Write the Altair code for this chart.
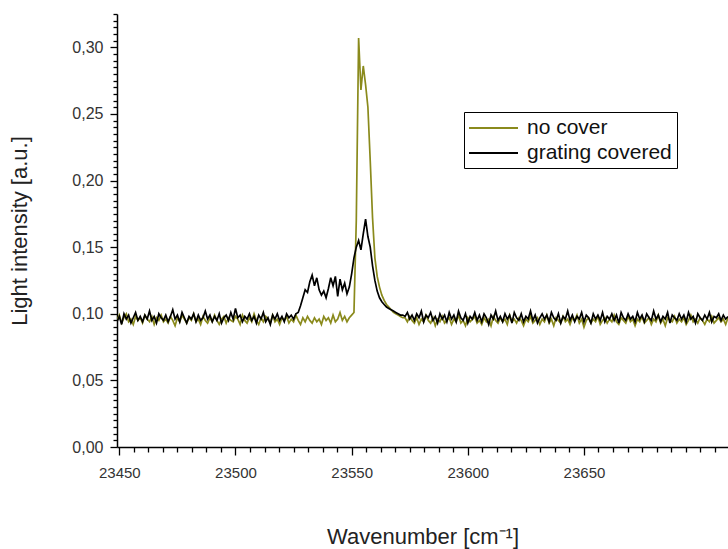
import altair as alt
import pandas as pd

# ---------------- data ----------------
wn_first = 23449
wn_last = 23712

# "no cover" (olive) ---------------------------------------------
no_cover_left = [  # 23449 .. 23548
    0.095, 0.099, 0.093, 0.097, 0.100, 0.094, 0.096, 0.092, 0.098, 0.095,
    0.097, 0.093, 0.099, 0.096, 0.094, 0.098, 0.092, 0.097, 0.095, 0.099,
    0.094, 0.096, 0.093, 0.098, 0.095, 0.091, 0.097, 0.094, 0.099, 0.096,
    0.093, 0.097, 0.095, 0.100, 0.094, 0.096, 0.092, 0.098, 0.095, 0.093,
    0.097, 0.094, 0.099, 0.095, 0.092, 0.096, 0.098, 0.093, 0.097, 0.095,
    0.094, 0.098, 0.096, 0.092, 0.099, 0.095, 0.093, 0.097, 0.094, 0.100,
    0.095, 0.092, 0.097, 0.094, 0.098, 0.096, 0.093, 0.099, 0.094, 0.096,
    0.092, 0.097, 0.095, 0.098, 0.093, 0.096, 0.094, 0.099, 0.095, 0.092,
    0.097, 0.094, 0.098, 0.095, 0.093, 0.097, 0.094, 0.096, 0.092, 0.098,
    0.095, 0.097, 0.093, 0.099, 0.094, 0.096, 0.101, 0.095, 0.098, 0.094,
]
no_cover_peak = [  # 23549 .. 23572
    0.097, 0.099, 0.101, 0.170, 0.307, 0.268, 0.286, 0.272, 0.255, 0.215,
    0.172, 0.142, 0.128, 0.120, 0.114, 0.110, 0.107, 0.105, 0.103, 0.101,
    0.100, 0.099, 0.098, 0.097,
]
no_cover_right = [  # 23573 .. 23712
    0.097, 0.094, 0.098, 0.095, 0.093, 0.097, 0.092, 0.096, 0.094, 0.099,
    0.095, 0.093, 0.097, 0.091, 0.096, 0.094, 0.098, 0.093, 0.095, 0.097,
    0.092, 0.096, 0.094, 0.099, 0.093, 0.095, 0.091, 0.097, 0.094, 0.096,
    0.098, 0.093, 0.095, 0.092, 0.097, 0.094, 0.096, 0.091, 0.098, 0.095,
    0.093, 0.097, 0.094, 0.096, 0.092, 0.099, 0.094, 0.096, 0.093, 0.097,
    0.095, 0.091, 0.096, 0.094, 0.098, 0.093, 0.095, 0.097, 0.092, 0.096,
    0.094, 0.099, 0.093, 0.096, 0.091, 0.097, 0.095, 0.093, 0.098, 0.094,
    0.096, 0.092, 0.097, 0.095, 0.099, 0.093, 0.096, 0.090, 0.095, 0.097,
    0.093, 0.096, 0.094, 0.098, 0.092, 0.095, 0.097, 0.093, 0.096, 0.094,
    0.099, 0.094, 0.092, 0.097, 0.095, 0.093, 0.098, 0.094, 0.096, 0.091,
    0.096, 0.094, 0.098, 0.093, 0.095, 0.097, 0.092, 0.096, 0.094, 0.099,
    0.093, 0.096, 0.091, 0.097, 0.095, 0.094, 0.098, 0.093, 0.096, 0.094,
    0.097, 0.092, 0.095, 0.099, 0.094, 0.096, 0.093, 0.097, 0.095, 0.092,
    0.096, 0.094, 0.098, 0.093, 0.095, 0.097, 0.094, 0.096, 0.092, 0.097,
]

# "grating covered" (black) --------------------------------------
grating_left = [  # 23449 .. 23526
    0.094, 0.098, 0.092, 0.100, 0.096, 0.099, 0.093, 0.097, 0.101, 0.095,
    0.098, 0.094, 0.099, 0.096, 0.102, 0.095, 0.098, 0.093, 0.100, 0.097,
    0.095, 0.099, 0.094, 0.098, 0.103, 0.096, 0.099, 0.094, 0.101, 0.097,
    0.093, 0.098, 0.096, 0.100, 0.094, 0.099, 0.095, 0.097, 0.102, 0.096,
    0.099, 0.094, 0.098, 0.095, 0.100, 0.093, 0.097, 0.099, 0.095, 0.101,
    0.096, 0.104, 0.097, 0.099, 0.094, 0.098, 0.096, 0.100, 0.095, 0.098,
    0.093, 0.099, 0.096, 0.101, 0.094, 0.097, 0.092, 0.099, 0.096, 0.100,
    0.095, 0.098, 0.094, 0.100, 0.097, 0.099, 0.096, 0.100,
]
grating_peak = [  # 23527 .. 23572
    0.101, 0.106, 0.112, 0.118, 0.116, 0.124, 0.129, 0.121, 0.127, 0.118,
    0.114, 0.117, 0.112, 0.119, 0.127, 0.121, 0.128, 0.113, 0.126, 0.118,
    0.123, 0.115, 0.120, 0.130, 0.142, 0.150, 0.155, 0.148, 0.160, 0.171,
    0.158, 0.150, 0.136, 0.125, 0.117, 0.112, 0.109, 0.107, 0.105, 0.104,
    0.103, 0.102, 0.101, 0.100, 0.099, 0.099,
]
grating_right = [  # 23573 .. 23712
    0.098, 0.101, 0.096, 0.099, 0.095, 0.100, 0.097, 0.102, 0.094, 0.099,
    0.097, 0.101, 0.095, 0.098, 0.093, 0.100, 0.096, 0.099, 0.094, 0.101,
    0.096, 0.099, 0.094, 0.102, 0.097, 0.095, 0.100, 0.093, 0.098, 0.096,
    0.101, 0.095, 0.099, 0.094, 0.100, 0.097, 0.092, 0.099, 0.096, 0.102,
    0.095, 0.098, 0.094, 0.100, 0.096, 0.099, 0.093, 0.101, 0.097, 0.095,
    0.100, 0.094, 0.098, 0.096, 0.102, 0.095, 0.099, 0.093, 0.097, 0.100,
    0.096, 0.099, 0.094, 0.101, 0.097, 0.095, 0.100, 0.093, 0.098, 0.096,
    0.102, 0.095, 0.099, 0.094, 0.098, 0.096, 0.101, 0.094, 0.099, 0.097,
    0.093, 0.100, 0.096, 0.099, 0.095, 0.101, 0.094, 0.098, 0.096, 0.100,
    0.095, 0.099, 0.093, 0.101, 0.097, 0.095, 0.100, 0.096, 0.098, 0.094,
    0.101, 0.096, 0.099, 0.094, 0.100, 0.097, 0.095, 0.102, 0.096, 0.099,
    0.094, 0.098, 0.096, 0.101, 0.093, 0.099, 0.097, 0.095, 0.100, 0.096,
    0.099, 0.094, 0.101, 0.096, 0.098, 0.093, 0.100, 0.097, 0.095, 0.099,
    0.096, 0.101, 0.094, 0.098, 0.097, 0.100, 0.095, 0.099, 0.096, 0.098,
]

series_names = ["no cover", "grating covered"]
series_colors = ["#8a8a1c", "#000000"]

# ---------------- table ----------------
wavenumbers = list(range(wn_first, wn_last + 1))
no_cover = no_cover_left + no_cover_peak + no_cover_right
grating = grating_left + grating_peak + grating_right
assert len(no_cover) == len(wavenumbers) == len(grating)

df = pd.DataFrame({
    "wavenumber": wavenumbers * 2,
    "intensity": no_cover + grating,
    "series": [series_names[0]] * len(no_cover) + [series_names[1]] * len(grating),
    "order": [0] * len(no_cover) + [1] * len(grating),
})

# tick positions (majors every 50 / 0.05, minors in between)
x_ticks = [23450 + i * 6.25 for i in range(0, 42)]
y_ticks = [round(i * 0.005, 3) for i in range(0, 66)]

X_MAJOR = "datum.value % 50 == 0 && datum.value < 23700"
Y_MAJOR = "abs(datum.value * 20 - round(datum.value * 20)) < 1e-6"

FONT = "Liberation Sans"
xscale = alt.Scale(domain=[wn_first, wn_last], nice=False, zero=False)
yscale = alt.Scale(domain=[0, 0.325], nice=False, zero=False)

x_axis = alt.Axis(
    values=x_ticks, title="Wavenumber [cm⁻¹]", orient="bottom",
    labelExpr=f"({X_MAJOR}) ? format(datum.value, 'd') : ''",
    labelOverlap=False,
    tickSize={"condition": {"test": X_MAJOR, "value": 8}, "value": 5},
    tickWidth=1.3, tickColor="black",
    domainColor="black", domainWidth=1.5, labelPadding=10,
    labelFontSize=15, labelColor="#333333", labelFont=FONT,
    titleFont=FONT, titleFontSize=22, titleFontWeight="normal",
    titleColor="#222222", titlePadding=46, grid=False,
)
y_axis = alt.Axis(
    values=y_ticks, title="Light intensity [a.u.]", orient="left",
    labelExpr=f"({Y_MAJOR}) ? replace(format(datum.value, '.2f'), '.', ',') : ''",
    labelOverlap=False,
    tickSize={"condition": {"test": Y_MAJOR, "value": 7}, "value": 4},
    tickWidth=1.3, tickColor="black",
    domainColor="black", domainWidth=1.5, labelPadding=7,
    labelFontSize=16, labelColor="#333333", labelFont=FONT,
    titleFont=FONT, titleFontSize=22, titleFontWeight="normal",
    titleColor="#222222", titlePadding=40, grid=False,
)

legend = alt.Legend(
    title=None, orient="none", legendX=347, legendY=98,
    strokeColor="black", fillColor="white", padding=5,
    symbolType="M-1.1,0H3.8", symbolSize=400, symbolStrokeWidth=2,
    symbolFillColor="transparent",
    labelFontSize=21, labelFont=FONT, labelColor="#111111",
    rowPadding=4, labelOffset=36, cornerRadius=0,
)

chart = alt.Chart(df).mark_line(strokeWidth=1.7, clip=True).encode(
    x=alt.X("wavenumber:Q", scale=xscale, axis=x_axis),
    y=alt.Y("intensity:Q", scale=yscale, axis=y_axis),
    color=alt.Color("series:N",
                    scale=alt.Scale(domain=series_names, range=series_colors),
                    legend=legend),
    order=alt.Order("order:Q"),
    detail="series:N",
).properties(
    width=611, height=433,
    autosize=alt.AutoSizeParams(type="none"),
    padding={"left": 117, "top": 14, "right": 0, "bottom": 102},
    background="white",
).configure_view(stroke=None)

chart.save("out.html", embed_options={"renderer": "svg", "actions": False})
